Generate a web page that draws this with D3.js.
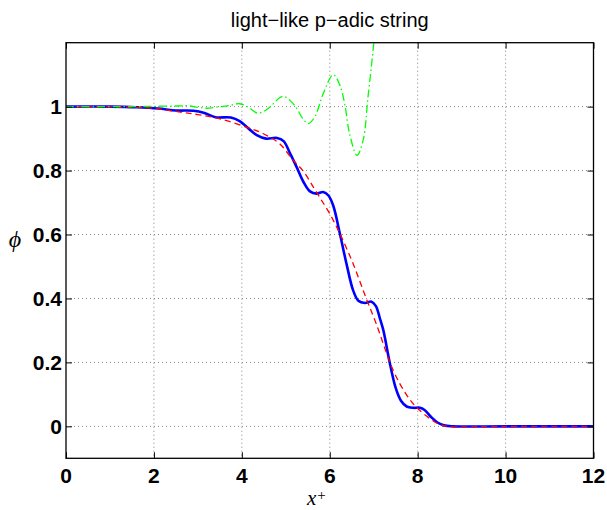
<!DOCTYPE html>
<html>
<head>
<meta charset="utf-8">
<script src="https://cdn.jsdelivr.net/npm/d3@7"></script>
<style>
  html, body { margin: 0; padding: 0; background: #fff; }
  svg { display: block; }
</style>
</head>
<body>
<div id="chart"></div>
<script>
// blue solid: full solution
const blueX = [0, 1, 1.6, 2.1, 2.5, 2.9, 3.15, 3.4, 3.75, 3.95, 4.15, 4.35, 4.55, 4.8, 4.95,
  5.1, 5.25, 5.4, 5.55, 5.7, 5.85, 5.97, 6.08, 6.23, 6.38, 6.53, 6.65, 6.8, 6.95, 7.05,
  7.14, 7.22, 7.36, 7.5, 7.62, 7.75, 7.9, 8.05, 8.15, 8.3, 8.45, 8.6, 8.8, 10, 12];
const blueY = [1, 1, 0.998, 0.994, 0.988, 0.987, 0.98, 0.967, 0.966, 0.955, 0.932, 0.91, 0.9, 0.902, 0.892,
  0.853, 0.81, 0.765, 0.735, 0.728, 0.733, 0.722, 0.69, 0.603, 0.509, 0.426, 0.393, 0.386, 0.39, 0.376,
  0.338, 0.3, 0.202, 0.12, 0.08, 0.062, 0.058, 0.058, 0.052, 0.03, 0.012, 0.003, 0, 0, 0];

// red dashed
const redX = [0, 1.5, 2.0, 2.6, 3.0, 3.5, 4.1, 4.48, 4.86, 5.17, 5.39, 5.62, 5.8, 6.0, 6.23,
  6.53, 6.83, 7.06, 7.44, 7.74, 7.97, 8.27, 8.5, 8.7, 10, 12];
const redY = [1, 0.998, 0.995, 0.983, 0.975, 0.962, 0.936, 0.916, 0.884, 0.832, 0.8, 0.75, 0.71, 0.665, 0.603,
  0.509, 0.4, 0.32, 0.176, 0.1, 0.06, 0.025, 0.006, 0, 0, 0];

// green dash-dot
const greenX = [0, 1, 1.5, 2, 2.5, 2.75, 3.0, 3.2, 3.45, 3.7, 3.95, 4.15, 4.35, 4.5, 4.64, 4.94,
  5.2, 5.39, 5.51, 5.66, 5.85, 6.08, 6.23, 6.34, 6.45, 6.62, 6.76, 6.87, 7.0, 7.04];
const greenY = [1, 1, 1, 1.001, 1.002, 1.003, 0.998, 0.995, 0.999, 1.003, 1.009, 0.998, 0.98, 0.985, 0.999, 1.032,
  1.004, 0.962, 0.947, 0.968, 1.04, 1.1, 1.067, 1.009, 0.916, 0.848, 0.895, 1.03, 1.197, 1.27];

const xTicks = [0, 2, 4, 6, 8, 10, 12];
const yTicks = [0, 0.2, 0.4, 0.6, 0.8, 1];
const yTickLabels = ["0", "0.2", "0.4", "0.6", "0.8", "1"];

const width = 607, height = 510;
const margin = {top: 42.7, right: 13.5, bottom: 51.7, left: 66};
const iw = width - margin.left - margin.right;
const ih = height - margin.top - margin.bottom;

const svg = d3.select("#chart").append("svg")
  .attr("width", width)
  .attr("height", height);

svg.append("rect").attr("width", width).attr("height", height).attr("fill", "#fff");

const g = svg.append("g").attr("transform", `translate(${margin.left},${margin.top})`);

const x = d3.scaleLinear().domain([0, 12]).range([0, iw]);
const y = d3.scaleLinear().domain([-0.1, 1.2]).range([ih, 0]);

svg.append("defs").append("clipPath").attr("id", "clip")
  .append("rect").attr("width", iw).attr("height", ih);

// grid
g.append("g").selectAll("line").data(xTicks.slice(1, -1)).enter().append("line")
  .attr("x1", d => x(d)).attr("x2", d => x(d))
  .attr("y1", 0).attr("y2", ih)
  .attr("stroke", "#666").attr("stroke-width", 0.8)
  .attr("stroke-dasharray", "1,3");
g.append("g").selectAll("line").data(yTicks).enter().append("line")
  .attr("x1", 0).attr("x2", iw)
  .attr("y1", d => y(d)).attr("y2", d => y(d))
  .attr("stroke", "#666").attr("stroke-width", 0.8)
  .attr("stroke-dasharray", "1,3");

// curves
const line = d3.line()
  .x(d => x(d[0])).y(d => y(d[1]))
  .curve(d3.curveCatmullRom.alpha(0.5));

const plot = g.append("g").attr("clip-path", "url(#clip)");

plot.append("path")
  .datum(d3.zip(blueX, blueY))
  .attr("d", line)
  .attr("fill", "none").attr("stroke", "#0000ff").attr("stroke-width", 2.6);

plot.append("path")
  .datum(d3.zip(redX, redY))
  .attr("d", line)
  .attr("fill", "none").attr("stroke", "#ff0000").attr("stroke-width", 1.3)
  .attr("stroke-dasharray", "6,4");

plot.append("path")
  .datum(d3.zip(greenX, greenY))
  .attr("d", line)
  .attr("fill", "none").attr("stroke", "#00ff00").attr("stroke-width", 1.3)
  .attr("stroke-dasharray", "8,3,1.5,3");

// axes (ticks inward, box on)
const tickLen = 6;
const fmt = d => d;
g.append("g").attr("transform", `translate(0,${ih})`)
  .call(d3.axisBottom(x).tickValues(xTicks).tickSizeInner(-tickLen).tickSizeOuter(0).tickFormat(""))
  .call(a => a.select(".domain").remove());
g.append("g")
  .call(d3.axisTop(x).tickValues(xTicks).tickSizeInner(-tickLen).tickSizeOuter(0).tickFormat(""))
  .call(a => a.select(".domain").remove());
g.append("g")
  .call(d3.axisLeft(y).tickValues(yTicks).tickSizeInner(-tickLen).tickSizeOuter(0).tickFormat(""))
  .call(a => a.select(".domain").remove());
g.append("g").attr("transform", `translate(${iw},0)`)
  .call(d3.axisRight(y).tickValues(yTicks).tickSizeInner(-tickLen).tickSizeOuter(0).tickFormat(""))
  .call(a => a.select(".domain").remove());
g.selectAll(".tick line").attr("stroke", "#000").attr("stroke-width", 1);

g.append("rect").attr("width", iw).attr("height", ih)
  .attr("fill", "none").attr("stroke", "#000").attr("stroke-width", 1.3);

// tick labels
g.append("g").selectAll("text").data(xTicks).enter().append("text")
  .attr("x", d => x(d)).attr("y", ih + 24.5)
  .attr("text-anchor", "middle")
  .attr("font-family", "Liberation Sans, Arial, sans-serif")
  .attr("font-weight", "bold").attr("font-size", 21)
  .text(fmt);
g.append("g").selectAll("text").data(yTicks).enter().append("text")
  .attr("x", -4).attr("y", d => y(d))
  .attr("dy", "0.36em")
  .attr("text-anchor", "end")
  .attr("font-family", "Liberation Sans, Arial, sans-serif")
  .attr("font-weight", "bold").attr("font-size", 21)
  .text((d, i) => yTickLabels[i]);

// title
svg.append("text")
  .attr("x", margin.left + iw / 2).attr("y", 27)
  .attr("text-anchor", "middle")
  .attr("font-family", "Liberation Sans, Arial, sans-serif")
  .attr("font-size", 20)
  .text("light−like p−adic string");

// axis labels
svg.append("text")
  .attr("x", 15).attr("y", 247)
  .attr("text-anchor", "middle")
  .attr("font-family", "Liberation Serif, DejaVu Serif, serif")
  .attr("font-style", "italic").attr("font-size", 24)
  .text("ϕ");

const xl = svg.append("text")
  .attr("x", 307).attr("y", 505)
  .attr("font-family", "Liberation Serif, DejaVu Serif, serif")
  .attr("font-size", 21);
xl.append("tspan").attr("font-style", "italic").text("x");
xl.append("tspan").attr("dx", 1).attr("dy", -5).attr("font-size", 15).text("+");
</script>
</body>
</html>
